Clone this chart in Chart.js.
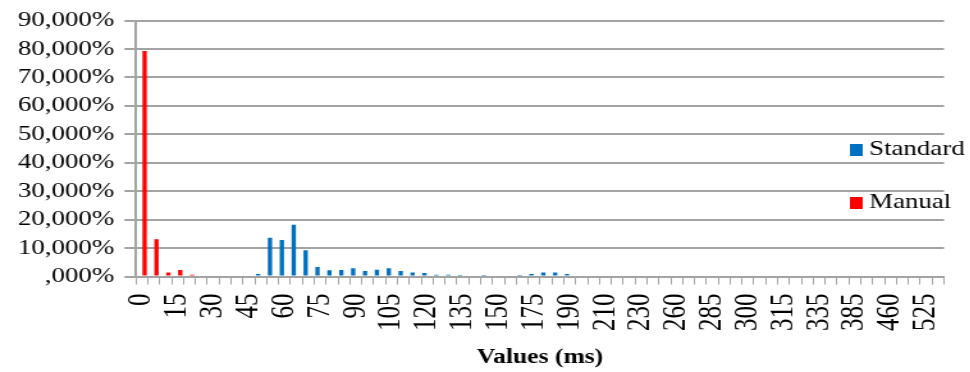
<!DOCTYPE html>
<html>
<head>
<meta charset="utf-8">
<script src="https://cdn.jsdelivr.net/npm/chart.js@4.4.1/dist/chart.umd.min.js"></script>
<style>
  html, body { margin: 0; padding: 0; background: #fff; overflow: hidden; }
  #wrap { position: absolute; left: 0; top: 0; width: 772px; height: 372px; transform: scaleX(1.28); transform-origin: 0 0; }
</style>
</head>
<body>
<div id="wrap"><canvas id="c" width="772" height="372"></canvas></div>
<script>
// Categories (ms) on the x axis
const categories = [0,5,10,15,20,25,30,35,40,45,50,55,60,65,70,75,80,85,90,95,100,105,110,115,120,125,130,135,140,145,150,160,170,175,180,185,190,195,200,210,215,220,230,240,250,260,270,280,285,290,295,300,305,310,315,320,325,335,350,365,385,400,430,460,480,500,525,560];

// Series values (%)
const standardValues = [0,0,0,0,0,0,0,0,0,0,0.9,13.6,12.8,18.2,9.2,3.3,2.2,2.3,2.9,1.9,2.4,2.9,1.9,1.4,1.2,0.6,0.6,0.5,0,0.5,0,0,0.5,0.9,1.4,1.4,0.9,0,0,0,0,0,0,0,0,0,0,0,0,0,0,0,0,0,0,0,0,0,0,0,0,0,0,0,0,0,0,0];
const manualValues = [79.3,13.1,1.4,2.3,0.6,0,0,0,0,0,0,0,0,0,0,0,0,0,0,0,0,0,0,0,0,0,0,0,0,0,0,0,0,0,0,0,0,0,0,0,0,0,0,0,0,0,0,0,0,0,0,0,0,0,0,0,0,0,0,0,0,0,0,0,0,0,0,0];

// Series names
const seriesNames = ['Standard', 'Manual'];

const FONT = "'Liberation Serif', 'Times New Roman', serif";
const GRID = '#a3a3a3';

const sideLegend = {
  id: 'sideLegend',
  afterDraw(chart, args, opts) {
    const ctx = chart.ctx;
    ctx.save();
    ctx.font = opts.fontSize + 'px ' + FONT;
    ctx.textBaseline = 'middle';
    ctx.textAlign = 'left';
    chart.data.datasets.forEach((ds, i) => {
      const y = opts.ys[i];
      ctx.fillStyle = ds.backgroundColor;
      ctx.fillRect(opts.x, y - opts.boxH / 2, opts.boxW, opts.boxH);
      ctx.fillStyle = '#000';
      ctx.fillText(ds.label, opts.x + opts.boxW + opts.gap, y - 1);
    });
    ctx.restore();
  }
};

new Chart(document.getElementById('c'), {
  type: 'bar',
  data: {
    labels: categories,
    datasets: [
      { label: seriesNames[0], data: standardValues, backgroundColor: '#0070c0', borderWidth: 0 },
      { label: seriesNames[1], data: manualValues, backgroundColor: '#ff0000', borderWidth: 0 }
    ]
  },
  options: {
    responsive: false,
    animation: false,
    devicePixelRatio: 1,
    categoryPercentage: 0.9,
    barPercentage: 0.8,
    layout: { padding: { left: 6, right: 16, top: 20, bottom: 0 } },
    plugins: {
      legend: { display: false },
      tooltip: { enabled: false },
      sideLegend: { x: 664, ys: [150, 203], boxW: 10, boxH: 12, gap: 5, fontSize: 21 }
    },
    scales: {
      x: {
        offset: true,
        grid: { display: true, offset: true, drawOnChartArea: false, drawTicks: true, tickLength: 8, color: GRID, lineWidth: 1 },
        border: { display: true, color: GRID, width: 2 },
        ticks: {
          autoSkip: false, minRotation: 90, maxRotation: 90, padding: 9,
          color: '#000', font: { family: FONT, size: 25 },
          callback: function (v, i) { return i % 3 === 0 ? String(this.getLabelForValue(v)) : ''; }
        },
        title: { display: true, text: 'Values (ms)', color: '#000', font: { family: FONT, size: 20, weight: 'bold' }, padding: { top: 6, bottom: 2 } }
      },
      y: {
        min: 0, max: 90,
        grid: { color: GRID, lineWidth: 2, tickLength: 9, drawTicks: true },
        border: { display: true, color: GRID, width: 2 },
        ticks: {
          autoSkip: false, stepSize: 10, padding: 8, color: '#000', font: { family: FONT, size: 21 },
          callback: v => (v === 0 ? ',000%' : v + ',000%')
        }
      }
    }
  },
  plugins: [sideLegend]
});
</script>
</body>
</html>
